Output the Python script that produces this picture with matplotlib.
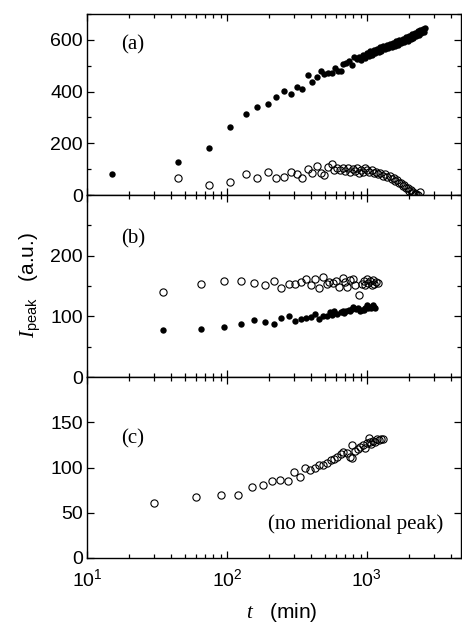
import matplotlib
matplotlib.use('Agg')
import matplotlib.pyplot as plt
from matplotlib.ticker import MultipleLocator, NullLocator, LogLocator

plt.rcParams['font.family'] = ['Liberation Sans', 'DejaVu Sans']
plt.rcParams['mathtext.fontset'] = 'custom'
plt.rcParams['mathtext.rm'] = 'Liberation Sans'
plt.rcParams['mathtext.it'] = 'Liberation Serif:italic'
plt.rcParams['mathtext.bf'] = 'Liberation Sans:bold'

# ---------------- data ----------------
# panel (a) filled circles
a_fill_t = [15, 45, 75, 105, 136, 165, 197, 225, 257, 285, 316, 345, 377, 407, 437, 467, 495,
            529, 560, 591, 617, 651, 677, 708, 739, 777, 811,
            850, 880, 910, 940, 970, 1000, 1030, 1060, 1090, 1120, 1150, 1180, 1210, 1240, 1270,
            1300, 1340, 1380, 1420, 1460, 1500, 1540, 1580, 1620, 1660, 1700, 1750, 1800, 1850,
            1900, 1950, 2000, 2050, 2100, 2150, 2200, 2250, 2300, 2350, 2400, 2450, 2500, 2550, 2600]
a_fill_v = [81, 126, 183, 264, 315, 339, 352, 380, 401, 389, 416, 410, 465, 437, 455, 480, 467,
            473, 473, 490, 480, 481, 505, 512, 518, 503, 534,
            525, 534, 522, 540, 530, 548, 536, 556, 543, 562, 550, 566, 553, 571, 558,
            576, 563, 580, 568, 585, 572, 589, 577, 594, 582, 598, 586, 604, 591,
            610, 596, 616, 602, 622, 608, 627, 614, 633, 620, 638, 626, 642, 632, 646]

# panel (a) open circles
a_open_t = [45, 75, 105, 136, 165, 197, 225, 257, 285, 316, 345, 377, 407, 437, 467, 495, 529,
            560, 580, 610, 640, 670, 700, 730, 760, 790, 820, 850, 880, 910, 940, 970, 1000,
            1040, 1080, 1120, 1160, 1200, 1250, 1300, 1350, 1400, 1450, 1500, 1550, 1600, 1650,
            1700, 1750, 1800, 1850, 1900, 1950, 2000, 2050, 2100, 2150, 2200, 2250, 2300, 2380]
a_open_v = [65, 39, 52, 83, 65, 89, 65, 68, 90, 81, 67, 99, 87, 112, 86, 77, 108,
            121, 98, 103, 97, 106, 94, 104, 88, 101, 92, 106, 85, 98, 90, 103, 95,
            88, 96, 84, 90, 80, 86, 74, 80, 70, 74, 62, 66, 55, 58,
            46, 48, 36, 38, 26, 28, 17, 19, 9, 11, 3, 5, 1, 13]

# panel (b) open circles
b_open_t = [35, 65, 95, 126, 155, 186, 216, 245, 276, 306, 336, 367, 396, 427, 456, 487, 515,
            538, 569, 601, 634, 670, 696, 723, 756, 790, 821, 881, 916, 950, 970, 1000, 1020,
            1050, 1080, 1100, 1130, 1160, 1200]
b_open_v = [140, 153, 159, 159, 155, 151, 158, 147, 153, 154, 156, 162, 152, 162, 147, 165, 154,
            156, 155, 159, 148, 163, 156, 149, 160, 162, 152, 135, 153, 158, 152, 161, 155,
            158, 151, 160, 154, 157, 155]

# panel (b) filled circles
b_fill_t = [35, 65, 95, 126, 155, 186, 216, 245, 276, 306, 336, 367, 396, 427, 456, 487, 515,
            545, 560, 577, 613, 650, 670, 690, 708, 739, 760, 777, 797, 838, 860, 885, 925,
            950, 967, 1000, 1020, 1044, 1070, 1105, 1120, 1140]
b_fill_v = [77, 79, 83, 88, 94, 90, 88, 98, 100, 93, 95, 98, 99, 104, 95, 100, 100,
            107, 103, 108, 104, 107, 109, 105, 108, 111, 108, 112, 116, 112, 114, 109, 111,
            110, 114, 118, 113, 116, 114, 118, 115, 113]

# panel (c) open circles
c_open_t = [30, 60, 91, 120, 151, 181, 211, 241, 271, 303, 332, 363, 392, 423, 454, 487, 518,
            550, 581, 613, 648, 677, 716, 754, 777, 786, 821, 857, 891, 942, 970, 1000, 1040,
            1050, 1070, 1100, 1140, 1180, 1220, 1260, 1300]
c_open_v = [61, 67, 70, 70, 79, 81, 85, 86, 85, 95, 90, 100, 97, 99, 103, 103, 105,
            108, 109, 112, 115, 117, 116, 112, 125, 110, 118, 120, 123, 125, 122, 127, 133,
            128, 126, 129, 128, 131, 130, 132, 132]

panel_labels = ['(a)', '(b)', '(c)']
y_limits = [700, 300, 200]
y_major = [[0, 200, 400, 600], [0, 100, 200], [0, 50, 100, 150]]
y_minor = [100, 50, None]

# ---------------- figure ----------------
W, H = 462, 623
fig = plt.figure(figsize=(W / 100, H / 100), dpi=100)
left_px, right_px = 87, 461
rows_px = [(14, 195), (195, 377), (377, 558)]

axes = []
for i, (top, bot) in enumerate(rows_px):
    ax = fig.add_axes([left_px / W, 1 - bot / H, (right_px - left_px) / W, (bot - top) / H])
    ax.set_xscale('log')
    ax.set_xlim(10, 4700)
    ax.set_ylim(0, y_limits[i])
    ax.set_yticks(y_major[i])
    if y_minor[i]:
        ax.yaxis.set_minor_locator(MultipleLocator(y_minor[i]))
    else:
        ax.yaxis.set_minor_locator(NullLocator())
    ax.xaxis.set_major_locator(LogLocator(base=10, numticks=10))
    ax.xaxis.set_minor_locator(LogLocator(base=10, subs=range(2, 10), numticks=20))
    ax.tick_params(which='both', direction='in', top=True, right=True, labelsize=14, width=0.9)
    ax.tick_params(which='major', length=5, pad=3)
    ax.tick_params(which='minor', length=3)
    ax.tick_params(axis='x', which='major', pad=7)
    for s in ax.spines.values():
        s.set_linewidth(1.0)
    if i < 2:
        ax.tick_params(labelbottom=False)
    axes.append(ax)

fs = dict(marker='o', ls='none', ms=4.6, clip_on=False, zorder=3)
op = dict(marker='o', ls='none', ms=5.2, mfc='none', mec='black', mew=0.8, clip_on=False, zorder=3)

axes[0].plot(a_open_t, a_open_v, **op)
axes[0].plot(a_fill_t, a_fill_v, color='black', mew=0, **fs)
axes[1].plot(b_open_t, b_open_v, **op)
axes[1].plot(b_fill_t, b_fill_v, color='black', mew=0, **fs)
axes[2].plot(c_open_t, c_open_v, **op)

label_y = [0.83, 0.758, 0.657]
for ax, lab, yy in zip(axes, panel_labels, label_y):
    ax.text(0.091, yy, lab, transform=ax.transAxes, ha='left', va='center',
            fontsize=15, family='Liberation Serif')

axes[2].text(0.952, 0.188, '(no meridional peak)', transform=axes[2].transAxes,
             ha='right', va='center', fontsize=15, family='Liberation Serif')

fig.text(282 / W, 1 - 612 / H, r'$t$   (min)', ha='center', va='center', fontsize=15)
fig.text(30 / W, 1 - 285 / H, r'$I_{\mathrm{peak}}$   (a.u.)', rotation=90,
         ha='center', va='center', fontsize=15)

fig.savefig('out.png', dpi=100)
